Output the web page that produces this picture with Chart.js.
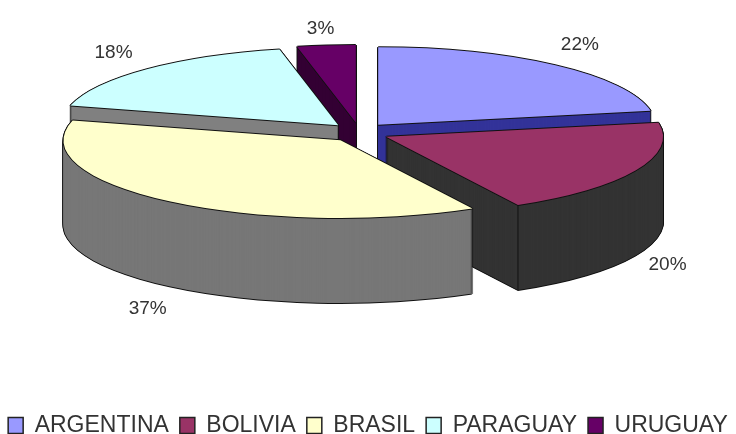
<!DOCTYPE html>
<html>
<head>
<meta charset="utf-8">
<style>
  html, body { margin: 0; background: #fff; overflow: hidden; }
  canvas { display: block; filter: blur(0.4px); }
</style>
<script src="https://cdn.jsdelivr.net/npm/chart.js@4"></script>
</head>
<body>
<canvas id="myChart" width="736" height="434"></canvas>
<script>
const countries = ["ARGENTINA", "BOLIVIA", "BRASIL", "PARAGUAY", "URUGUAY"];
const shares = [22.1, 20, 37, 17.5, 3.4];
const topColors = ["#9999FF", "#993366", "#FFFFCC", "#CCFFFF", "#660066"];
const sideColors = ["#333399", "#333333", "#777777", "#808080", "#330033"];
// painter's order, back of the pie first
const drawOrder = [4, 3, 0, 1, 2];
// small hand nudges for the percent labels
const labelNudgeX = [2, 0, 0, -9, -2];
const labelNudgeY = [-1, -1, 3, 2, 8];

const pie3d = {
    id: "pie3d",
    beforeDatasetsDraw(chart, args, opts) {
        const { ctx } = chart;
        const arcs = chart.getDatasetMeta(0).data;

        const paint = (arc, x, y, color) => {
            const saved = arc.options;
            arc.options = { ...saved, backgroundColor: color, borderWidth: 0 };
            ctx.save();
            ctx.translate(x, y);
            ctx.scale(1, opts.squash);
            ctx.translate(-arc.x, -arc.y);
            arc.draw(ctx);
            ctx.restore();
            arc.options = saved;
        };

        drawOrder.forEach(i => {
            const arc = arcs[i];
            const mid = (arc.startAngle + arc.endAngle) / 2;
            const x = opts.centerX + Math.cos(mid) * opts.explodeX;
            const y = opts.centerY + Math.sin(mid) * opts.explodeY;

            // wall: stacked copies of the slice, outlined by copies nudged 1px
            for (let d = opts.depth; d >= 0; d--) {
                paint(arc, x - 1, y + d, "#111");
                paint(arc, x + 1, y + d, "#111");
            }
            paint(arc, x, y + opts.depth + 1, "#111");
            for (let d = opts.depth; d >= 0; d--) {
                paint(arc, x, y + d, sideColors[i]);
            }

            // corner between cut face and rim, only on front slices
            if (Math.sin(arc.endAngle) > 0) {
                const px = x + Math.cos(arc.endAngle) * arc.outerRadius;
                const py = y + Math.sin(arc.endAngle) * arc.outerRadius * opts.squash;
                ctx.save();
                ctx.strokeStyle = "#111";
                ctx.beginPath();
                ctx.moveTo(px, py);
                ctx.lineTo(px, py + opts.depth);
                ctx.stroke();
                ctx.restore();
            }

            // lid
            paint(arc, x - 1, y, "#111");
            paint(arc, x + 1, y, "#111");
            paint(arc, x, y - 1, "#111");
            paint(arc, x, y + 1, "#111");
            paint(arc, x, y, topColors[i]);
        });
        return false;
    },
    // returning false above skips afterDatasetsDraw, so labels go here
    afterDraw(chart, args, opts) {
        const { ctx } = chart;
        const arcs = chart.getDatasetMeta(0).data;
        const total = shares.reduce((a, b) => a + b, 0);

        ctx.save();
        ctx.font = '19px "Liberation Sans", Arial, sans-serif';
        ctx.fillStyle = "#333";
        ctx.textAlign = "center";
        ctx.textBaseline = "middle";
        arcs.forEach((arc, i) => {
            const mid = (arc.startAngle + arc.endAngle) / 2;
            const cos = Math.cos(mid), sin = Math.sin(mid);
            const x = opts.centerX + cos * (opts.explodeX + arc.outerRadius + opts.labelGapX);
            let y = opts.centerY + sin * (opts.explodeY + arc.outerRadius * opts.squash + opts.labelGapY);
            if (sin > 0) y += opts.depth;
            ctx.fillText(Math.round(shares[i] / total * 100) + "%", x + labelNudgeX[i], y + labelNudgeY[i]);
        });
        ctx.restore();
    }
};

new Chart(document.getElementById("myChart"), {
    type: "pie",
    data: {
        labels: countries,
        datasets: [{
            data: shares,
            backgroundColor: topColors,
            borderColor: "#222",
            borderWidth: 1.5,
            radius: 277
        }]
    },
    options: {
        responsive: false,
        animation: false,
        events: [],
        layout: { padding: { bottom: -13, left: -8, right: -8 } },
        plugins: {
            tooltip: { enabled: false },
            legend: {
                position: "bottom",
                labels: {
                    boxWidth: 15,
                    boxHeight: 16,
                    padding: 11,
                    color: "#333",
                    font: { family: '"Liberation Sans", Arial, sans-serif', size: 23 }
                }
            },
            pie3d: {
                centerX: 359,
                centerY: 132.5,
                squash: 0.28,
                depth: 85,
                explodeX: 30,
                explodeY: 10,
                labelGapX: 35,
                labelGapY: 25
            }
        }
    },
    plugins: [pie3d]
});
</script>
</body>
</html>
